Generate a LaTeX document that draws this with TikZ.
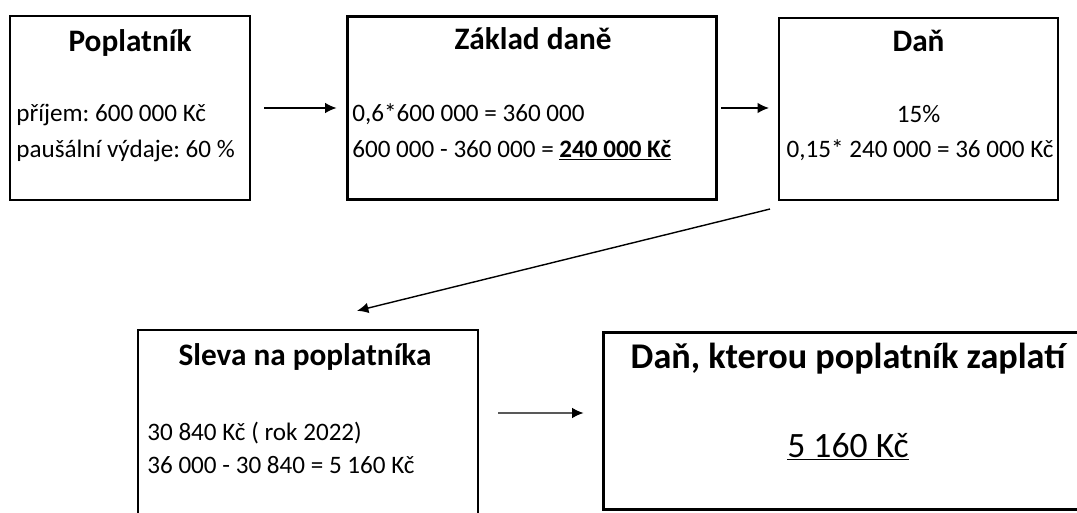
\documentclass[tikz,border=0pt]{standalone}
\usepackage{fontspec}
\setmainfont{Carlito}
\frenchspacing
\usetikzlibrary{arrows.meta}
\tikzset{box/.style={draw, line width=1.2pt, inner sep=0pt},
titul/.style={inner sep=0pt, anchor=base, font=\fontsize{17.8}{20}\selectfont\bfseries},
radek/.style={inner sep=0pt, anchor=base west, font=\fontsize{14.3}{17}\selectfont},
sipka/.style={-{Latex[length=6.5pt,width=6pt]}, line width=0.8pt}}
\newcommand{\podtrh}[1]{\underline{#1}}
\begin{document}
\begin{tikzpicture}[x=0.02cm, y=-0.02cm]
\useasboundingbox (0,0) rectangle (1077,513);
\clip (0,0) rectangle (1077,513);

\node[box, minimum width=4.8cm, minimum height=3.68cm] (popl) at (130,108) {};
\node[box, line width=1.7pt, minimum width=7.4cm, minimum height=3.68cm] (zaklad) at (532,108) {};
\node[box, minimum width=5.58cm, minimum height=3.64cm] (dan) at (918.5,109) {};
\node[box, line width=1.4pt, minimum width=6.8cm, minimum height=4.6cm] (sleva) at (308,445) {};
\node[box, line width=1.7pt, minimum width=9.8cm, minimum height=3.56cm] (platba) at (848,421) {};

\node[titul] (poplT) at (130,52) {Poplatník};
\node[radek] (popl1) at (16,122) {příjem: 600 000 Kč};
\node[radek] (popl2) at (16,157) {paušální výdaje: 60 \%};

\node[titul] (zakladT) at (533,50) {Základ daně};
\node[radek] (zaklad1) at (352,122) {0,6*600 000 = 360 000};
\node[radek] (zaklad2) at (352,157) {600 000 - 360 000 = \podtrh{\textbf{240 000 Kč}}};

\node[titul] (danT) at (918.5,52) {Daň};
\node[radek, anchor=base] (dan1) at (918.5,123) {15\%};
\node[radek, anchor=base] (dan2) at (920,157) {0,15* 240 000 = 36 000 Kč};

\node[titul] (slevaT) at (305,365) {Sleva na poplatníka};
\node[radek] (sleva1) at (147,440) {30 840 Kč ( rok 2022)};
\node[radek] (sleva2) at (147,473) {36 000 - 30 840 = 5 160 Kč};

\node[titul, font=\fontsize{20.6}{24}\selectfont\bfseries] (platbaT) at (848,368) {Daň, kterou poplatník zaplatí};
\node[radek, anchor=base, font=\fontsize{20.3}{24}\selectfont] (platba1) at (848,457) {\podtrh{5 160 Kč}};

\draw[sipka] ([xshift=0.26cm]popl.east) -- ([xshift=-0.18cm]zaklad.west);
\draw[sipka] ([xshift=0.06cm]zaklad.east) -- ([xshift=-0.18cm]zaklad.east -| dan.west);
\draw[sipka] ([xshift=-0.16cm,yshift=-0.16cm]dan.south west) -- ([xshift=0.98cm,yshift=0.36cm]sleva.north);
\draw[sipka] ([xshift=0.38cm,yshift=0.64cm]sleva.east) -- ([xshift=-0.36cm,yshift=0.16cm]platba.west);

\end{tikzpicture}
\end{document}
